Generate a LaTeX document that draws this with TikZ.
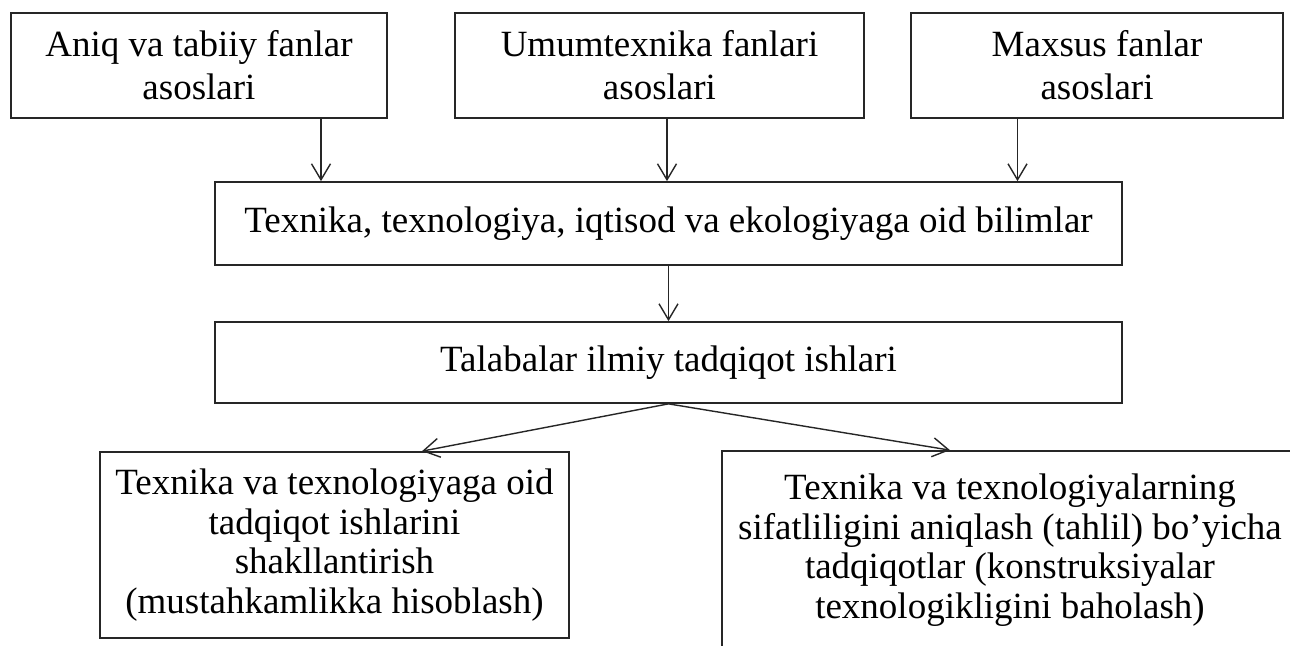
\documentclass[tikz,border=0pt]{standalone}
\usepackage{fontspec}
\setmainfont{Liberation Serif}
\usetikzlibrary{arrows.meta}
\begin{document}
\begin{tikzpicture}[x=1pt,y=-1pt,
  box/.style={draw, line width=1.7pt, draw=black!85, rectangle, inner sep=0pt, align=center,
    font=\fontsize{37}{43}\selectfont},
  lowbox/.style={box, font=\fontsize{37}{39.5}\selectfont},
  arr/.style={line width=1.4pt, draw=black!85, -{Straight Barb[length=16pt,width=19pt,line width=1.4pt]}}]
\clip (0,0) rectangle (1290,645);
\useasboundingbox (0,0) rectangle (1290,645);
\fill[white] (0,0) rectangle (1290,645);
\node[box, minimum width=376pt, minimum height=105pt] (a1) at (199,65.5) {Aniq va tabiiy fanlar\\asoslari};
\node[box, minimum width=409pt, minimum height=105pt] (a2) at (659.5,65.5) {Umumtexnika fanlari\\asoslari};
\node[box, minimum width=372pt, minimum height=105pt] (a3) at (1097,65.5) {Maxsus fanlar\\asoslari};
\node[box, minimum width=907pt, minimum height=83pt] (b) at (668.5,223.5) {Texnika, texnologiya, iqtisod va ekologiyaga oid bilimlar};
\node[box, minimum width=907pt, minimum height=81pt] (c) at (668.5,362.5) {\raisebox{6pt}{Talabalar ilmiy tadqiqot ishlari}};
\node[lowbox, minimum width=469pt, minimum height=186pt] (d) at (334.5,545) {Texnika va texnologiyaga oid\\tadqiqot ishlarini\\shakllantirish\\(mustahkamlikka hisoblash)};
\node[lowbox, minimum width=576pt, minimum height=200pt] (e) at (1010,551) {\raisebox{4pt}{\begin{tabular}{@{}c@{}}Texnika va texnologiyalarning\\sifatliligini aniqlash (tahlil) bo’yicha\\tadqiqotlar (konstruksiyalar\\texnologikligini baholash)\end{tabular}}};
\draw[arr] ([xshift=122pt]a1.south) -- ([xshift=122pt]a1.south |- b.north);
\draw[arr] ([xshift=7.5pt]a2.south) -- ([xshift=7.5pt]a2.south |- b.north);
\draw[arr] ([xshift=-79.5pt]a3.south) -- ([xshift=-79.5pt]a3.south |- b.north);
\draw[arr] (b.south) -- (b.south |- c.north);
\draw[arr] (c.south) -- ([xshift=87.5pt]d.north);
\draw[arr] (c.south) -- ([xshift=-60pt]e.north);
\end{tikzpicture}
\end{document}
